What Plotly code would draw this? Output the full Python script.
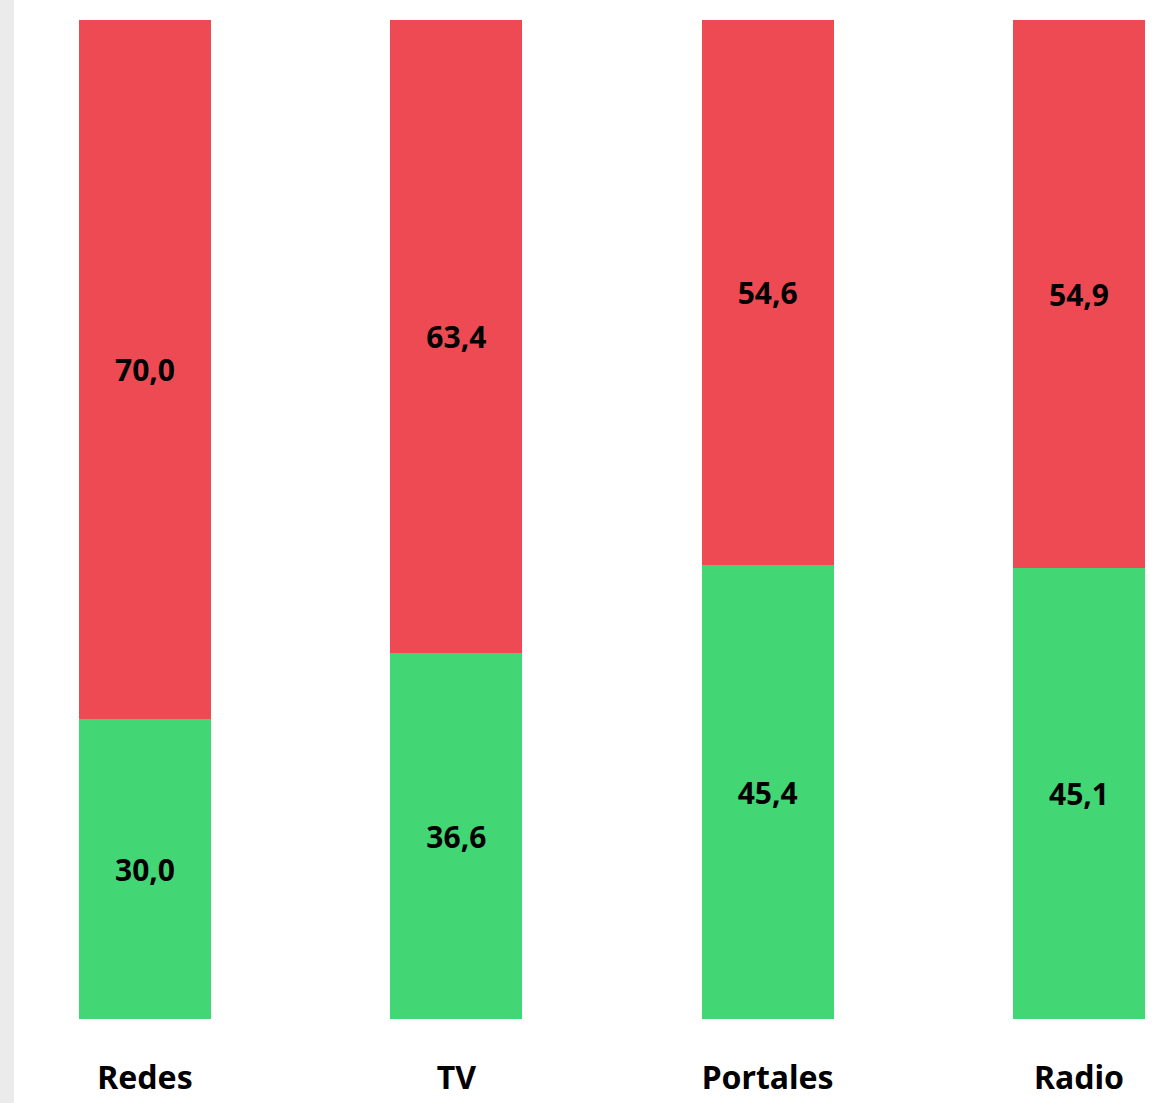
import plotly.graph_objects as go

categories = ["Redes", "TV", "Portales", "Radio"]
green_values = [30.0, 36.6, 45.4, 45.1]
red_values = [70.0, 63.4, 54.6, 54.9]

def fmt(v):
    return f"{v:.1f}".replace(".", ",")

GREEN = "#42d774"
RED = "#ee4a53"
FONT = "Noto Sans"

fig = go.Figure()
for vals, col in ((green_values, GREEN), (red_values, RED)):
    fig.add_trace(go.Bar(
        x=categories, y=vals, marker=dict(color=col, line=dict(width=0)),
        text=[fmt(v) for v in vals], textposition="inside",
        insidetextanchor="middle",
        textfont=dict(family=FONT, size=30, color="black", weight="bold"),
        hoverinfo="skip",
    ))

fig.update_layout(
    barmode="stack",
    bargap=0.576,
    width=1158, height=1103,
    margin=dict(l=14, r=0, t=20, b=84),
    paper_bgcolor="white", plot_bgcolor="white",
    showlegend=False,
    uniformtext=dict(mode=False),
    xaxis=dict(
        range=[-0.4208, 3.2537], showgrid=False, zeroline=False, showline=False,
        ticks="", tickfont=dict(family=FONT, size=32, color="black", weight="bold"),
        ticklabelstandoff=37, automargin=False,
    ),
    yaxis=dict(range=[0, 100], visible=False, showgrid=False, zeroline=False,
               automargin=False),
    shapes=[dict(type="rect", xref="paper", yref="paper", x0=-14/1144, x1=0,
                 y0=-84/999, y1=1+20/999, fillcolor="#ebebeb", line=dict(width=0),
                 layer="below")],
)

fig.write_html("out.html",
               config={"displayModeBar": False},
               post_script="document.body.style.margin='0';document.body.style.overflow='hidden';")
